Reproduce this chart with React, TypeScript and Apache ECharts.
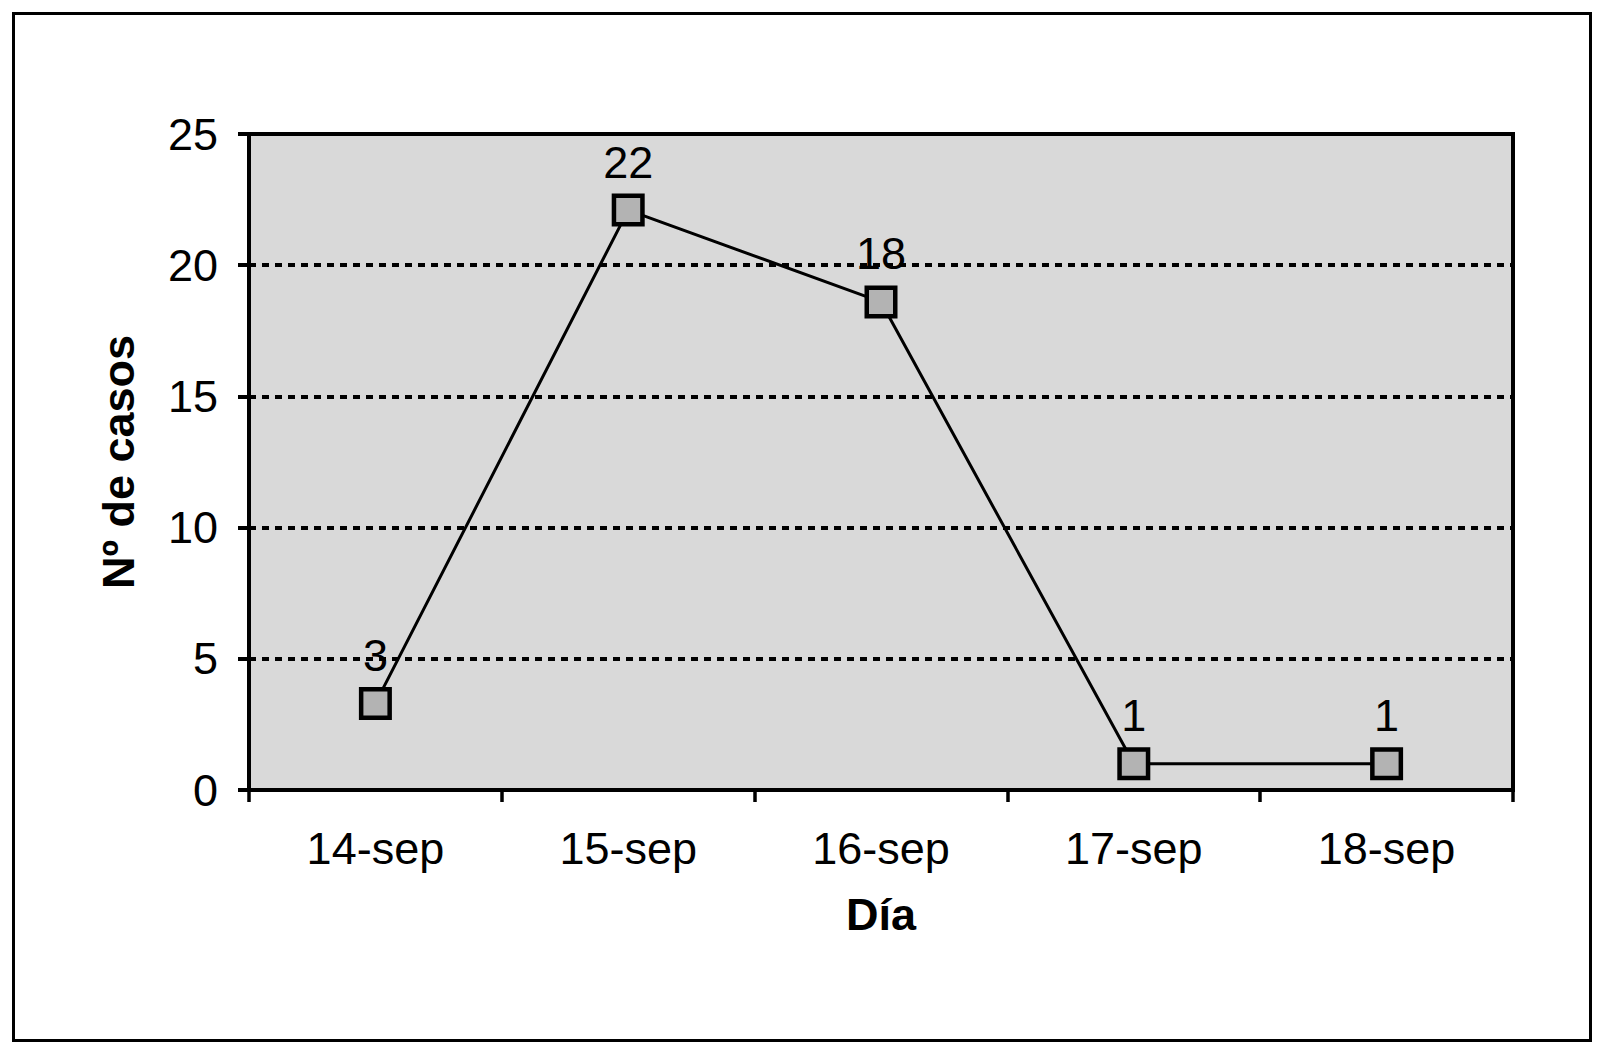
import React, { useEffect, useRef } from "react";
import * as echarts from "echarts";

const categories = ["14-sep", "15-sep", "16-sep", "17-sep", "18-sep"];
const values = [3.3, 22.1, 18.6, 1, 1];
const labelTexts = ["3", "22", "18", "1", "1"];
const yTicks = [0, 5, 10, 15, 20, 25];

const FONT = "'Liberation Sans', Arial, Helvetica, sans-serif";

export default function App() {
  const ref = useRef<HTMLDivElement>(null);
  useEffect(() => {
    const chart = echarts.init(ref.current!, undefined, { renderer: "svg" });
    chart.setOption({
      animation: false,
      backgroundColor: "#ffffff",
      textStyle: { fontFamily: FONT },
      graphic: [
        {
          type: "rect",
          shape: { x: 13.5, y: 13.5, width: 1577, height: 1027 },
          style: { fill: "none", stroke: "#000", lineWidth: 3 },
          z: 100,
        },
      ],
      grid: {
        left: 249,
        top: 134,
        right: 92,
        bottom: 259,
        show: true,
        backgroundColor: "#d9d9d9",
        borderColor: "#000",
        borderWidth: 4,
      },
      xAxis: {
        type: "category",
        data: categories,
        boundaryGap: true,
        name: "Día",
        nameLocation: "middle",
        nameGap: 102,
        nameTextStyle: { fontFamily: FONT, fontSize: 45, fontWeight: "bold", color: "#000" },
        axisLine: { show: true, lineStyle: { color: "#000", width: 4 } },
        axisTick: { show: true, length: 12, lineStyle: { color: "#000", width: 3.5 } },
        axisLabel: { fontFamily: FONT, fontSize: 45, color: "#000", margin: 36 },
        splitLine: { show: false },
      },
      yAxis: {
        type: "value",
        min: 0,
        max: 25,
        interval: 5,
        name: "Nº de casos",
        nameLocation: "middle",
        nameGap: 108,
        nameRotate: 90,
        nameTextStyle: { fontFamily: FONT, fontSize: 45, fontWeight: "bold", color: "#000" },
        axisLine: { show: true, lineStyle: { color: "#000", width: 4 } },
        axisTick: { show: true, length: 11, lineStyle: { color: "#000", width: 4 } },
        axisLabel: {
          fontFamily: FONT,
          fontSize: 45,
          color: "#000",
          margin: 31,
          formatter: (v: number) => (yTicks.includes(v) ? String(v) : ""),
        },
        splitLine: { show: true, lineStyle: { color: "#000", width: 4, type: [7, 6] } },
      },
      series: [
        {
          type: "line",
          data: values,
          symbol: "rect",
          symbolSize: 28.5,
          itemStyle: { color: "#b3b3b3", borderColor: "#000", borderWidth: 4.5 },
          lineStyle: { color: "#000", width: 3 },
          label: {
            show: true,
            position: "inside",
            offset: [0, -48],
            fontFamily: FONT,
            fontSize: 45,
            color: "#000",
            formatter: (p: any) => labelTexts[p.dataIndex],
          },
        },
      ],
    });
    return () => chart.dispose();
  }, []);
  return (
    <div
      ref={ref}
      style={{ position: "fixed", left: 0, top: 0, width: 1605, height: 1049, background: "#fff" }}
    />
  );
}
